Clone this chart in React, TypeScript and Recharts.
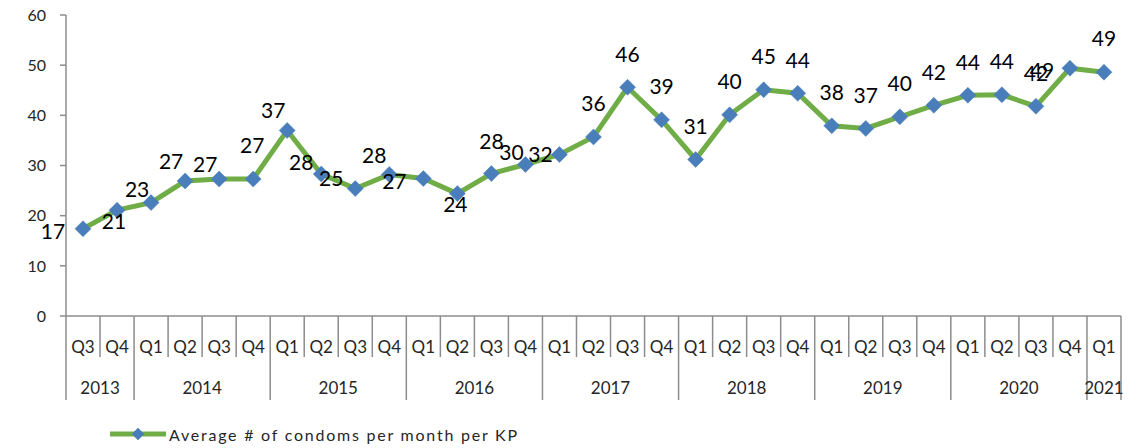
import React from "react";
import { LineChart, Line, XAxis, YAxis, LabelList } from "recharts";

// quarter labels, year of each quarter, and the series value
const quarters = [
  "Q3", "Q4",
  "Q1", "Q2", "Q3", "Q4",
  "Q1", "Q2", "Q3", "Q4",
  "Q1", "Q2", "Q3", "Q4",
  "Q1", "Q2", "Q3", "Q4",
  "Q1", "Q2", "Q3", "Q4",
  "Q1", "Q2", "Q3", "Q4",
  "Q1", "Q2", "Q3", "Q4",
  "Q1",
];
const years = [
  "2013", "2013",
  "2014", "2014", "2014", "2014",
  "2015", "2015", "2015", "2015",
  "2016", "2016", "2016", "2016",
  "2017", "2017", "2017", "2017",
  "2018", "2018", "2018", "2018",
  "2019", "2019", "2019", "2019",
  "2020", "2020", "2020", "2020",
  "2021",
];
const avgCondoms = [
  17.4, 21.1,
  22.6, 26.9, 27.3, 27.3,
  37.0, 28.3, 25.4, 28.2,
  27.4, 24.4, 28.4, 30.2,
  32.2, 35.7, 45.6, 39.1,
  31.2, 40.1, 45.1, 44.4,
  37.9, 37.4, 39.7, 42.0,
  44.0, 44.1, 41.8, 49.4,
  48.6,
];
const yTicks = [0, 10, 20, 30, 40, 50, 60];
const seriesName = "Average # of condoms per month per KP";

const data = quarters.map((q, i) => ({ q, year: years[i], value: avgCondoms[i] }));

// layout
const W = 1148;
const H = 448;
const M = { top: 15, right: 27, bottom: 34, left: 30 };
const Y_AXIS_W = 36;
const PLOT_W = W - M.left - M.right - Y_AXIS_W;
const BAND = PLOT_W / quarters.length;
const FONT = "Lato, 'Open Sans', sans-serif";
const AXIS_GREY = "#8c8c8c";
const GREEN = "#70AD47";
const BLUE = "#4A7EBB";

// where each data label sits relative to its point (excel had them dragged around)
const labelNudge: Record<number, [number, number]> = {
  0: [-30, 2], 1: [-3, 10], 2: [-14, -14], 3: [-14, -21], 4: [-14, -16],
  5: [-1, -35], 6: [-14, -21], 7: [-20, -13], 8: [-24, -11], 9: [-15, -20],
  10: [-29, 2], 11: [-2, 10], 12: [0, -33], 13: [-14, -13], 14: [-19, -1],
  29: [-28, 1], 30: [0, -35],
};

const Diamond = (props: any) => {
  const { cx, cy, r = 8 } = props;
  if (cx == null || cy == null) return null;
  return (
    <path
      d={`M${cx},${cy - r} L${cx + r},${cy} L${cx},${cy + r} L${cx - r},${cy} Z`}
      fill={BLUE}
      stroke={BLUE}
      strokeWidth={0.5}
    />
  );
};

const PointLabel = (props: any) => {
  const { x, y, value, index } = props;
  const [dx, dy] = labelNudge[index] ?? [0, -34];
  return (
    <text
      x={x + dx}
      y={y + dy}
      textAnchor="middle"
      dominantBaseline="central"
      fontSize={21}
      fontFamily={FONT}
      fill="#000"
    >
      {Math.round(value)}
    </text>
  );
};

const QuarterTick = (props: any) => {
  const { x, y, payload } = props;
  const i = props.index ?? payload.index;
  const left = x - BAND / 2;
  const yearStart = i === 0 || years[i] !== years[i - 1];
  const isLast = i === quarters.length - 1;
  let groupCount = 0;
  if (yearStart) {
    while (years[i + groupCount] === years[i]) groupCount++;
  }
  return (
    <g>
      <line x1={left} y1={y} x2={left} y2={y + (yearStart ? 84 : 41)} stroke={AXIS_GREY} strokeWidth={1.5} />
      {isLast && (
        <line x1={x + BAND / 2} y1={y} x2={x + BAND / 2} y2={y + 84} stroke={AXIS_GREY} strokeWidth={1.5} />
      )}
      <text x={x} y={y + 30} textAnchor="middle" dominantBaseline="central" fontSize={17} fontFamily={FONT} fill="#262626">
        {payload.value}
      </text>
      {yearStart && (
        <text
          x={left + (groupCount * BAND) / 2}
          y={y + 71}
          textAnchor="middle"
          dominantBaseline="central"
          fontSize={17}
          fontFamily={FONT}
          fill="#262626"
        >
          {years[i]}
        </text>
      )}
    </g>
  );
};

export default function App() {
  return (
    <div style={{ position: "absolute", left: 0, top: 0, width: W, height: H, background: "#fff" }}>
      <LineChart width={W} height={H} data={data} margin={M}>
        <YAxis
          width={Y_AXIS_W}
          domain={[0, 60]}
          ticks={yTicks}
          interval={0}
          tickSize={6}
          tickMargin={14}
          axisLine={{ stroke: AXIS_GREY, strokeWidth: 1.5 }}
          tickLine={{ stroke: AXIS_GREY, strokeWidth: 1.5 }}
          tick={{ fontSize: 16, fontFamily: FONT, fill: "#262626" }}
        />
        <XAxis
          dataKey="q"
          interval={0}
          height={98}
          padding={{ left: BAND / 2, right: BAND / 2 }}
          tickSize={0}
          tickMargin={0}
          tickLine={false}
          axisLine={{ stroke: AXIS_GREY, strokeWidth: 1.5 }}
          tick={<QuarterTick />}
        />
        <Line
          type="linear"
          dataKey="value"
          name={seriesName}
          stroke={GREEN}
          strokeWidth={5}
          dot={<Diamond r={8} />}
          activeDot={false}
          isAnimationActive={false}
        >
          <LabelList dataKey="value" content={<PointLabel />} />
        </Line>
      </LineChart>
      {/* legend */}
      <svg width={W} height={26} style={{ position: "absolute", left: 0, top: 421 }}>
        <line x1={110} y1={13} x2={166} y2={13} stroke={GREEN} strokeWidth={5} />
        <Diamond cx={138} cy={13} r={6} />
        <text x={169} y={13} dominantBaseline="central" fontSize={16} fontFamily={FONT} fill="#262626" textLength={348}>
          {seriesName}
        </text>
      </svg>
    </div>
  );
}
